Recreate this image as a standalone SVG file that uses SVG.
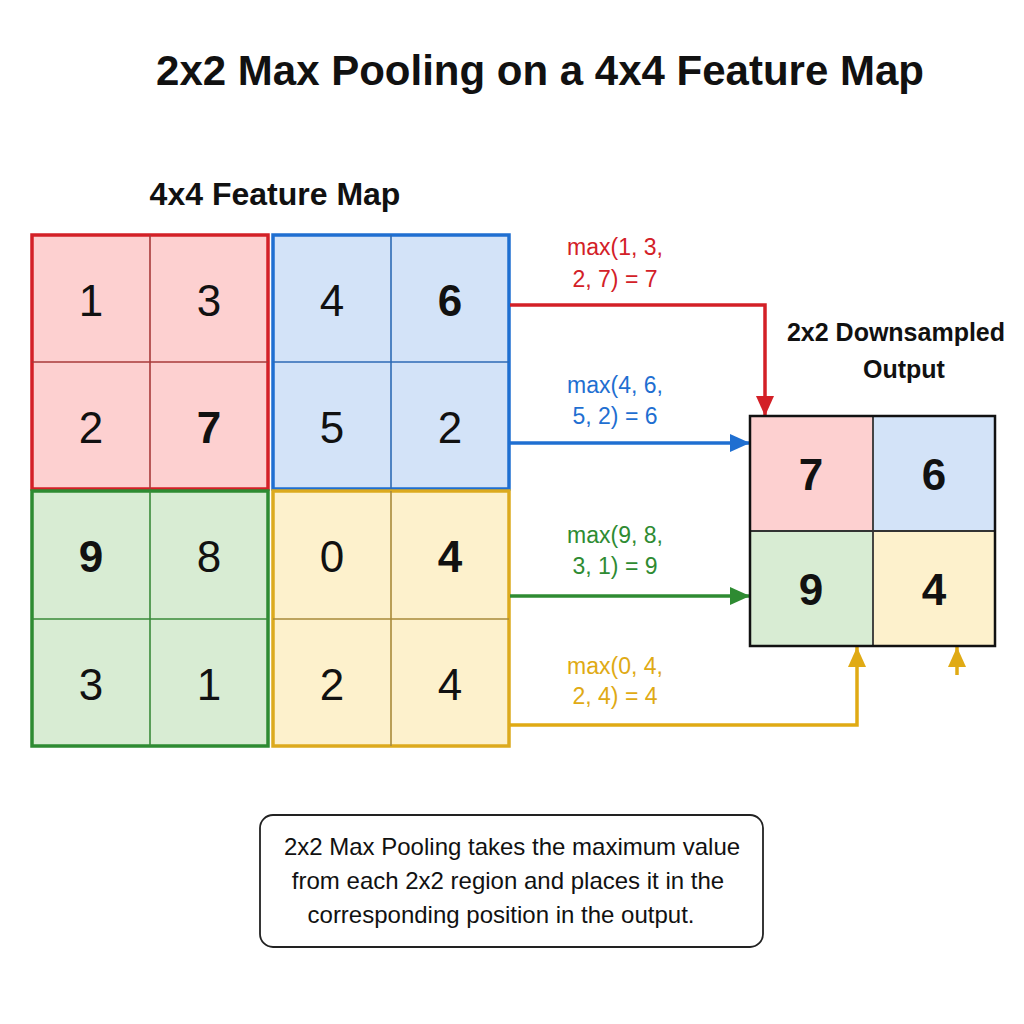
<svg xmlns="http://www.w3.org/2000/svg" width="1024" height="1024" viewBox="0 0 1024 1024">
<defs>
<style>
text{font-family:"Liberation Sans",Arial,sans-serif;fill:#111}
.title{font-size:42px;font-weight:bold;text-anchor:middle}
.sub{font-size:32px;font-weight:bold;text-anchor:middle}
.num{font-size:44px;text-anchor:middle}
.b{font-weight:bold}
.lbl{font-size:23px;text-anchor:middle}
.note{font-size:24px;text-anchor:middle}
.conn{fill:none;stroke-width:3.5}
.blk{stroke-width:3.5}
.in{stroke-width:1.6;fill:none}
</style>
<marker id="ar" viewBox="0 0 20 18" markerUnits="userSpaceOnUse" markerWidth="20" markerHeight="18" refX="20" refY="9" orient="auto"><path d="M0,0 L20,9 L0,18 z" fill="#d32027"/></marker>
<marker id="ab" viewBox="0 0 20 18" markerUnits="userSpaceOnUse" markerWidth="20" markerHeight="18" refX="20" refY="9" orient="auto"><path d="M0,0 L20,9 L0,18 z" fill="#1f6fd1"/></marker>
<marker id="ag" viewBox="0 0 20 18" markerUnits="userSpaceOnUse" markerWidth="20" markerHeight="18" refX="20" refY="9" orient="auto"><path d="M0,0 L20,9 L0,18 z" fill="#2e8b32"/></marker>
<marker id="ay" viewBox="0 0 20 18" markerUnits="userSpaceOnUse" markerWidth="20" markerHeight="18" refX="20" refY="9" orient="auto"><path d="M0,0 L20,9 L0,18 z" fill="#e0aa14"/></marker>
</defs>
<rect width="1024" height="1024" fill="#ffffff"/>
<text class="title" x="540" y="85">2x2 Max Pooling on a 4x4 Feature Map</text>
<text class="sub" x="275" y="205">4x4 Feature Map</text>

<g id="block-red">
<rect class="blk" x="32" y="235" width="236" height="254" fill="#fdd0d0" stroke="#d32027"/>
<path class="in" d="M150,235 V489 M32,362 H268" stroke="#a83a3a"/>
<text class="num" x="91" y="316">1</text>
<text class="num" x="209" y="316">3</text>
<text class="num" x="91" y="443">2</text>
<text class="num b" x="209" y="443">7</text>
</g>
<g id="block-blue">
<rect class="blk" x="273" y="235" width="236" height="254" fill="#d3e3f8" stroke="#1f6fd1"/>
<path class="in" d="M391,235 V489 M273,362 H509" stroke="#2e6bb5"/>
<text class="num" x="332" y="316">4</text>
<text class="num b" x="450" y="316">6</text>
<text class="num" x="332" y="443">5</text>
<text class="num" x="450" y="443">2</text>
</g>
<g id="block-green">
<rect class="blk" x="32" y="491" width="236" height="255" fill="#d8ecd3" stroke="#2e8b32"/>
<path class="in" d="M150,491 V746 M32,619 H268" stroke="#3a8a3a"/>
<text class="num b" x="91" y="572">9</text>
<text class="num" x="209" y="572">8</text>
<text class="num" x="91" y="700">3</text>
<text class="num" x="209" y="700">1</text>
</g>
<g id="block-yellow">
<rect class="blk" x="273" y="491" width="236" height="255" fill="#fdf1cc" stroke="#dcaa1e"/>
<path class="in" d="M391,491 V746 M273,619 H509" stroke="#a88a3a"/>
<text class="num" x="332" y="572">0</text>
<text class="num b" x="450" y="572">4</text>
<text class="num" x="332" y="700">2</text>
<text class="num" x="450" y="700">4</text>
</g>

<g id="connectors">
<path class="conn" d="M510,305 H765 V416" stroke="#d32027" marker-end="url(#ar)"/>
<path class="conn" d="M510,443 H750" stroke="#1f6fd1" marker-end="url(#ab)"/>
<path class="conn" d="M510,596 H750" stroke="#2e8b32" marker-end="url(#ag)"/>
<path class="conn" d="M510,725 H857 V647" stroke="#e0aa14" marker-end="url(#ay)"/>
<path class="conn" d="M957,675 V647" stroke="#e0aa14" marker-end="url(#ay)"/>
</g>

<g id="labels">
<text class="lbl" x="615" y="255" style="fill:#d32027">max(1, 3,</text>
<text class="lbl" x="615" y="287" style="fill:#d32027">2, 7) = 7</text>
<text class="lbl" x="615" y="393" style="fill:#1f6fd1">max(4, 6,</text>
<text class="lbl" x="615" y="424" style="fill:#1f6fd1">5, 2) = 6</text>
<text class="lbl" x="615" y="543" style="fill:#2e8b32">max(9, 8,</text>
<text class="lbl" x="615" y="574" style="fill:#2e8b32">3, 1) = 9</text>
<text class="lbl" x="615" y="674" style="fill:#e0aa14">max(0, 4,</text>
<text class="lbl" x="615" y="704" style="fill:#e0aa14">2, 4) = 4</text>
</g>

<g id="output">
<text x="896" y="341" style="font-size:25px;font-weight:bold;text-anchor:middle">2x2 Downsampled</text>
<text x="904" y="378" style="font-size:25px;font-weight:bold;text-anchor:middle">Output</text>
<rect x="750" y="416" width="123" height="115" fill="#fdd0d0"/>
<rect x="873" y="416" width="122" height="115" fill="#d3e3f8"/>
<rect x="750" y="531" width="123" height="115" fill="#d8ecd3"/>
<rect x="873" y="531" width="122" height="115" fill="#fdf1cc"/>
<path d="M873,416 V646 M750,531 H995" stroke="#333" stroke-width="1.8" fill="none"/>
<rect x="750" y="416" width="245" height="230" fill="none" stroke="#111" stroke-width="2.5"/>
<text class="num b" x="811" y="490">7</text>
<text class="num b" x="934" y="490">6</text>
<text class="num b" x="811" y="605">9</text>
<text class="num b" x="934" y="605">4</text>
</g>

<g id="note">
<rect x="260" y="815" width="503" height="132" rx="13" fill="#ffffff" stroke="#222" stroke-width="1.8"/>
<text class="note" x="512" y="855">2x2 Max Pooling takes the maximum value</text>
<text class="note" x="508" y="889">from each 2x2 region and places it in the</text>
<text class="note" x="501" y="923">corresponding position in the output.</text>
</g>
</svg>
